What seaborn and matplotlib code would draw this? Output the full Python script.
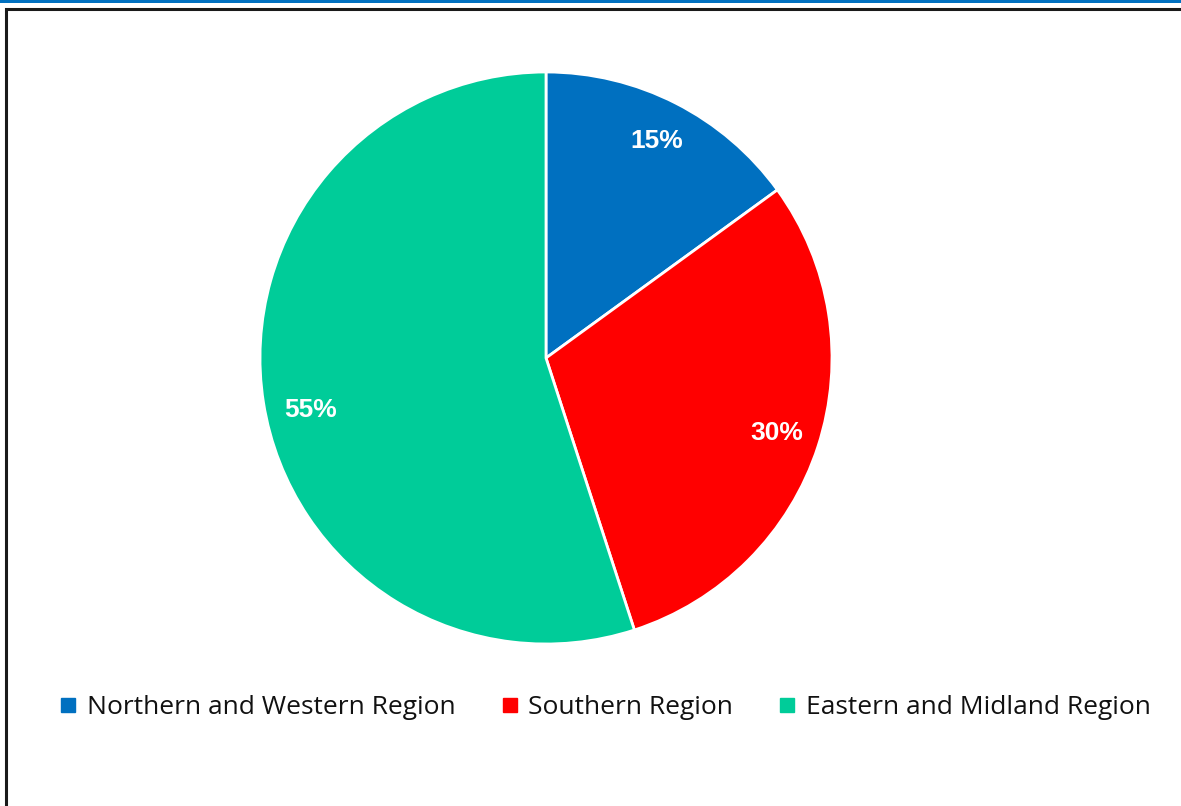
import matplotlib
matplotlib.use("Agg")
import matplotlib.pyplot as plt
import matplotlib.patches as mpatches
from matplotlib.lines import Line2D
import seaborn as sns

regions = ["Northern and Western Region", "Southern Region", "Eastern and Midland Region"]
shares = [15, 30, 55]
colors = ["#0070C0", "#FF0000", "#00CC99"]

sns.set_theme(style="white")
plt.rcParams["font.family"] = ["Liberation Sans", "DejaVu Sans"]

fig = plt.figure(figsize=(11.81, 8.06), dpi=100)
W, H = 1181, 806

# top accent strip and chart frame
fig.add_artist(mpatches.Rectangle((0, 1 - 3 / H), 1, 3 / H, transform=fig.transFigure,
                                  color="#0070C0", lw=0))
fig.add_artist(mpatches.Rectangle((6 / W, -0.05), 1.2, 1 - 9 / H + 0.05, transform=fig.transFigure,
                                  fill=False, edgecolor="#1a1a1a", lw=2.2))

cx, cy, r = 546, 358, 286
ax = fig.add_axes([(cx - r) / W, (H - cy - r) / H, 2 * r / W, 2 * r / H])
wedges, texts, autotexts = ax.pie(
    shares, colors=colors, startangle=90, counterclock=False,
    autopct="%d%%", pctdistance=0.85,
    wedgeprops=dict(edgecolor="white", linewidth=2),
    textprops=dict(color="white", fontsize=19, fontweight="bold"),
)
# best-fit placement of the large slice label sits a little lower
x0, y0 = autotexts[2].get_position()
autotexts[2].set_position((x0 + 0.015, y0 - 0.05))
ax.set_aspect("equal")
ax.set_xlim(-1, 1)
ax.set_ylim(-1, 1)
ax.axis("off")

handles = [Line2D([], [], marker="s", linestyle="none", markersize=10.5,
                  markerfacecolor=c, markeredgecolor=c) for c in colors]
leg = fig.legend(handles, regions, loc="center", bbox_to_anchor=(605.5 / W, 1 - 708 / H),
                 ncol=3, frameon=False, handlelength=0.6, handletextpad=0.4,
                 columnspacing=1.75,
                 prop={"family": ["Open Sans", "DejaVu Sans"], "size": 19})
for t in leg.get_texts():
    t.set_color("#111111")

fig.savefig("out.png", dpi=100, facecolor="white")
